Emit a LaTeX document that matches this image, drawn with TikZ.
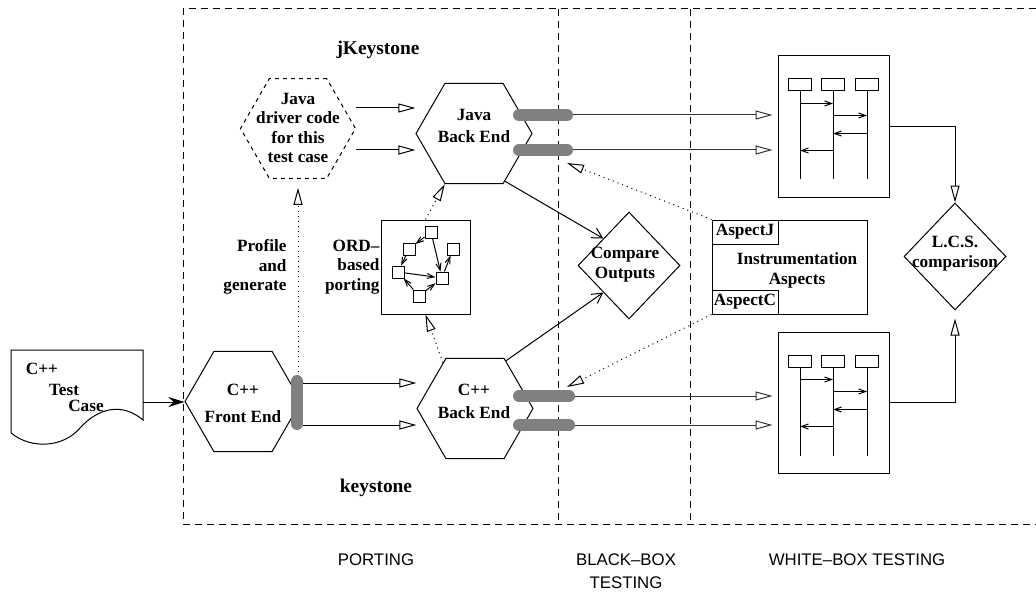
\documentclass[tikz,border=0pt]{standalone}
\usepackage{fontspec}
\setmainfont{Liberation Serif}
\setsansfont{Liberation Sans}
\usetikzlibrary{shapes.geometric,arrows.meta}

\begin{document}
\begin{tikzpicture}[
        x=0.5pt, y=-0.5pt, % one unit = one pixel of the layout, y downwards
        line width=0.5pt,
        hexa/.style={regular polygon, regular polygon sides=6, draw, inner sep=0pt, minimum size=58pt},
        txt/.style={align=center, inner sep=0pt, font=\bfseries\fontsize{8.6}{9.7}\selectfont},
        big/.style={inner sep=0pt, font=\bfseries\fontsize{9.7}{11}\selectfont},
        zone/.style={align=center, inner sep=0pt, font=\sffamily\fontsize{8.4}{11.5}\selectfont},
        frame/.style={dash pattern=on 3.5pt off 2.5pt},
        port/.style={draw=gray, line width=6pt, line cap=round},
        hollow/.style={-{Triangle[open, length=8.5pt, width=4.5pt]}},
        barb/.style={-{Straight Barb[length=5pt, width=5.5pt]}},
        msg/.style={-{Straight Barb[length=3.5pt, width=2.5pt]}},
        ordsq/.style={draw, fill=white, inner sep=0pt, minimum size=6pt},
        lifehead/.style={draw, inner sep=0pt, minimum width=11.5pt, minimum height=6pt},
        seqbox/.style={draw, inner sep=0pt, minimum width=55.5pt, minimum height=70.5pt},
        chk/.style={diamond, draw, inner sep=0pt, minimum width=51pt, minimum height=53.5pt},
    ]
    \useasboundingbox (0,0) rectangle (1036,593);

    % zones
    \draw[frame] (1036,9) -- (183,9) -- (183,524) -- (1036,524);
    \draw[frame] (558,9) -- (558,524);
    \draw[frame] (690,9) -- (690,524);
    \node[zone] (zPort) at (376,560) {PORTING};
    \node[zone] (zBlack) at (626,571.5) {BLACK--BOX\\TESTING};
    \node[zone] (zWhite) at (857,560) {WHITE--BOX TESTING};
    \node[big] (jk) at (378,50) {jKeystone};
    \node[big] (ks) at (376,488) {keystone};

    % test case document
    \draw (11,350) -- (143,350) -- (143,420) .. controls (122,402) and (98,408) .. (80,428)
        .. controls (64,447) and (32,450) .. (11,433) -- cycle;
    \node[txt] (tcA) at (42,369) {C++};
    \node[txt] (tcB) at (64,390) {Test};
    \node[txt] (tcC) at (86,406) {Case};
    \coordinate (tcP) at (143,402);

    % hexagons
    \node[hexa, dash pattern=on 2pt off 2pt, minimum size=57.5pt] (jdrv) at (298,128.5) {};
    \node[hexa] (jback) at (474,133.5) {};
    \node[hexa] (front) at (243,401.5) {};
    \node[hexa] (cback) at (475,408.5) {};
    \node[txt] (jdrvT) at (298,128) {Java\\driver code\\for this\\test case};
    \node[txt] (jbackT) at (474,126) {Java\\[1.3pt]Back End};
    \node[txt] (frontT) at (243,403) {C++\\[3.8pt]Front End};
    \node[txt] (cbackT) at (474,401.5) {C++\\[1.8pt]Back End};

    % ports
    \draw[port] (297,381) -- (297,424);
    \draw[port] (519,115) -- (567,115);
    \draw[port] (519,150) -- (567,150);
    \draw[port] (519,396) -- (569,396);
    \draw[port] (519,425) -- (569,425);
    \coordinate (fpT) at (298,372);
    \coordinate (fpA) at (303,383);
    \coordinate (fpB) at (303,425);
    \coordinate (jpA) at (573,115);
    \coordinate (jpB) at (573,150);
    \coordinate (jpD) at (567,163);
    \coordinate (cpA) at (575,396);
    \coordinate (cpB) at (575,425);
    \coordinate (cpD) at (567,387);

    % ORD based porting
    \node[draw, inner sep=0pt, minimum width=44.5pt, minimum height=47pt] (ord) at (425.5,267) {};
    \node[ordsq] (o1) at (431,232) {};
    \node[ordsq] (o2) at (409,249) {};
    \node[ordsq] (o3) at (453,249) {};
    \node[ordsq] (o4) at (398,272) {};
    \node[ordsq] (o5) at (442,278) {};
    \node[ordsq] (o6) at (419,296) {};
    \draw[msg] (o1) -- (o2);
    \draw[msg] (o2) -- (o4);
    \draw[msg] (o1) -- (o5);
    \draw[msg] (o4) -- (o5);
    \draw[msg] (o5) -- (o3);
    \draw[msg] (o6) -- (o4);
    \draw[msg] (o6) -- (o5);
    \node[txt, anchor=east, align=right] (prof) at (287,267) {Profile\\and\\generate};
    \node[txt, anchor=east, align=right] (ordT) at (380,267) {ORD--\\based\\porting};

    % checks
    \node[chk] (cmp) at (629,265.5) {};
    \node[txt] (cmpT) at (625,264.5) {Compare\\Outputs};
    \node[chk] (lcs) at (955,256.5) {};
    \node[txt] (lcsT) at (955,253.5) {L.C.S.\\comparison};

    % aspects
    \node[draw, inner sep=0pt, minimum width=77.5pt, minimum height=47pt] (instr) at (789.5,267) {};
    \node[draw, txt, anchor=north west, minimum width=33pt, minimum height=12pt] (aspJ) at (instr.north west) {AspectJ};
    \node[draw, txt, anchor=south west, minimum width=33pt, minimum height=12pt] (aspC) at (instr.south west) {AspectC};
    \node[txt] (instrT) at (797,270.5) {Instrumentation\\Aspects};

    % sequence diagrams
    \foreach \n/\y in {seqA/0, seqB/276}{
        \node[seqbox] (\n) at (833.5,126.5+\y) {};
        \foreach \i/\x in {1/800, 2/833, 3/867}{
            \node[lifehead] (\n-\i) at (\x,85+\y) {};
            \draw (\n-\i.south) -- ++(0,88);
        }
        \draw[msg] ([yshift=-6pt]\n-1.south) -- ([yshift=-6pt]\n-2.south);
        \draw[msg] ([yshift=-12pt]\n-2.south) -- ([yshift=-12pt]\n-3.south);
        \draw[msg] ([yshift=-21pt]\n-3.south) -- ([yshift=-21pt]\n-2.south);
        \draw[msg] ([yshift=-29.5pt]\n-2.south) -- ([yshift=-29.5pt]\n-1.south);
    }

    % connectors
    \draw[-{Stealth[length=8pt, width=5pt]}] (tcP) -- (tcP -| front.west);
    \draw[hollow] ([yshift=10.25pt]jdrv.east) -- ([yshift=10.25pt]jdrv.east -| jback.west);
    \draw[hollow] ([yshift=-10.75pt]jdrv.east) -- ([yshift=-10.75pt]jdrv.east -| jback.west);
    \draw[hollow] (fpA) -- (fpA -| cback.west);
    \draw[hollow] (fpB) -- (fpB -| cback.west);
    \draw[hollow, draw=black!80, shorten >=2.5pt] (jpA) -- (jpA -| seqA.west);
    \draw[hollow, draw=black!80, shorten >=2.5pt] (jpB) -- (jpB -| seqA.west);
    \draw[hollow, draw=black!80, shorten >=2.5pt] (cpA) -- (cpA -| seqB.west);
    \draw[hollow, draw=black!80, shorten >=2.5pt] (cpB) -- (cpB -| seqB.west);
    \draw[barb] (jback.-57) -- (cmp.north west);
    \draw[barb] (cback.57) -- (cmp.south west);
    \draw[hollow] (seqA.east) -| (lcs.north);
    \draw[hollow, shorten >=4pt] (seqB.east) -| (lcs.south);
    \draw[hollow, dotted, shorten >=4.5pt] (fpT) -- (jdrv.south);
    \draw[hollow, dotted] (cback.125) -- (ord.south);
    \draw[hollow, dotted] (ord.north) -- (jback.-120);
    \draw[hollow, dotted] (instr.north west) -- (jpD);
    \draw[hollow, dotted] (aspC.south west) -- (cpD);
\end{tikzpicture}
\end{document}
